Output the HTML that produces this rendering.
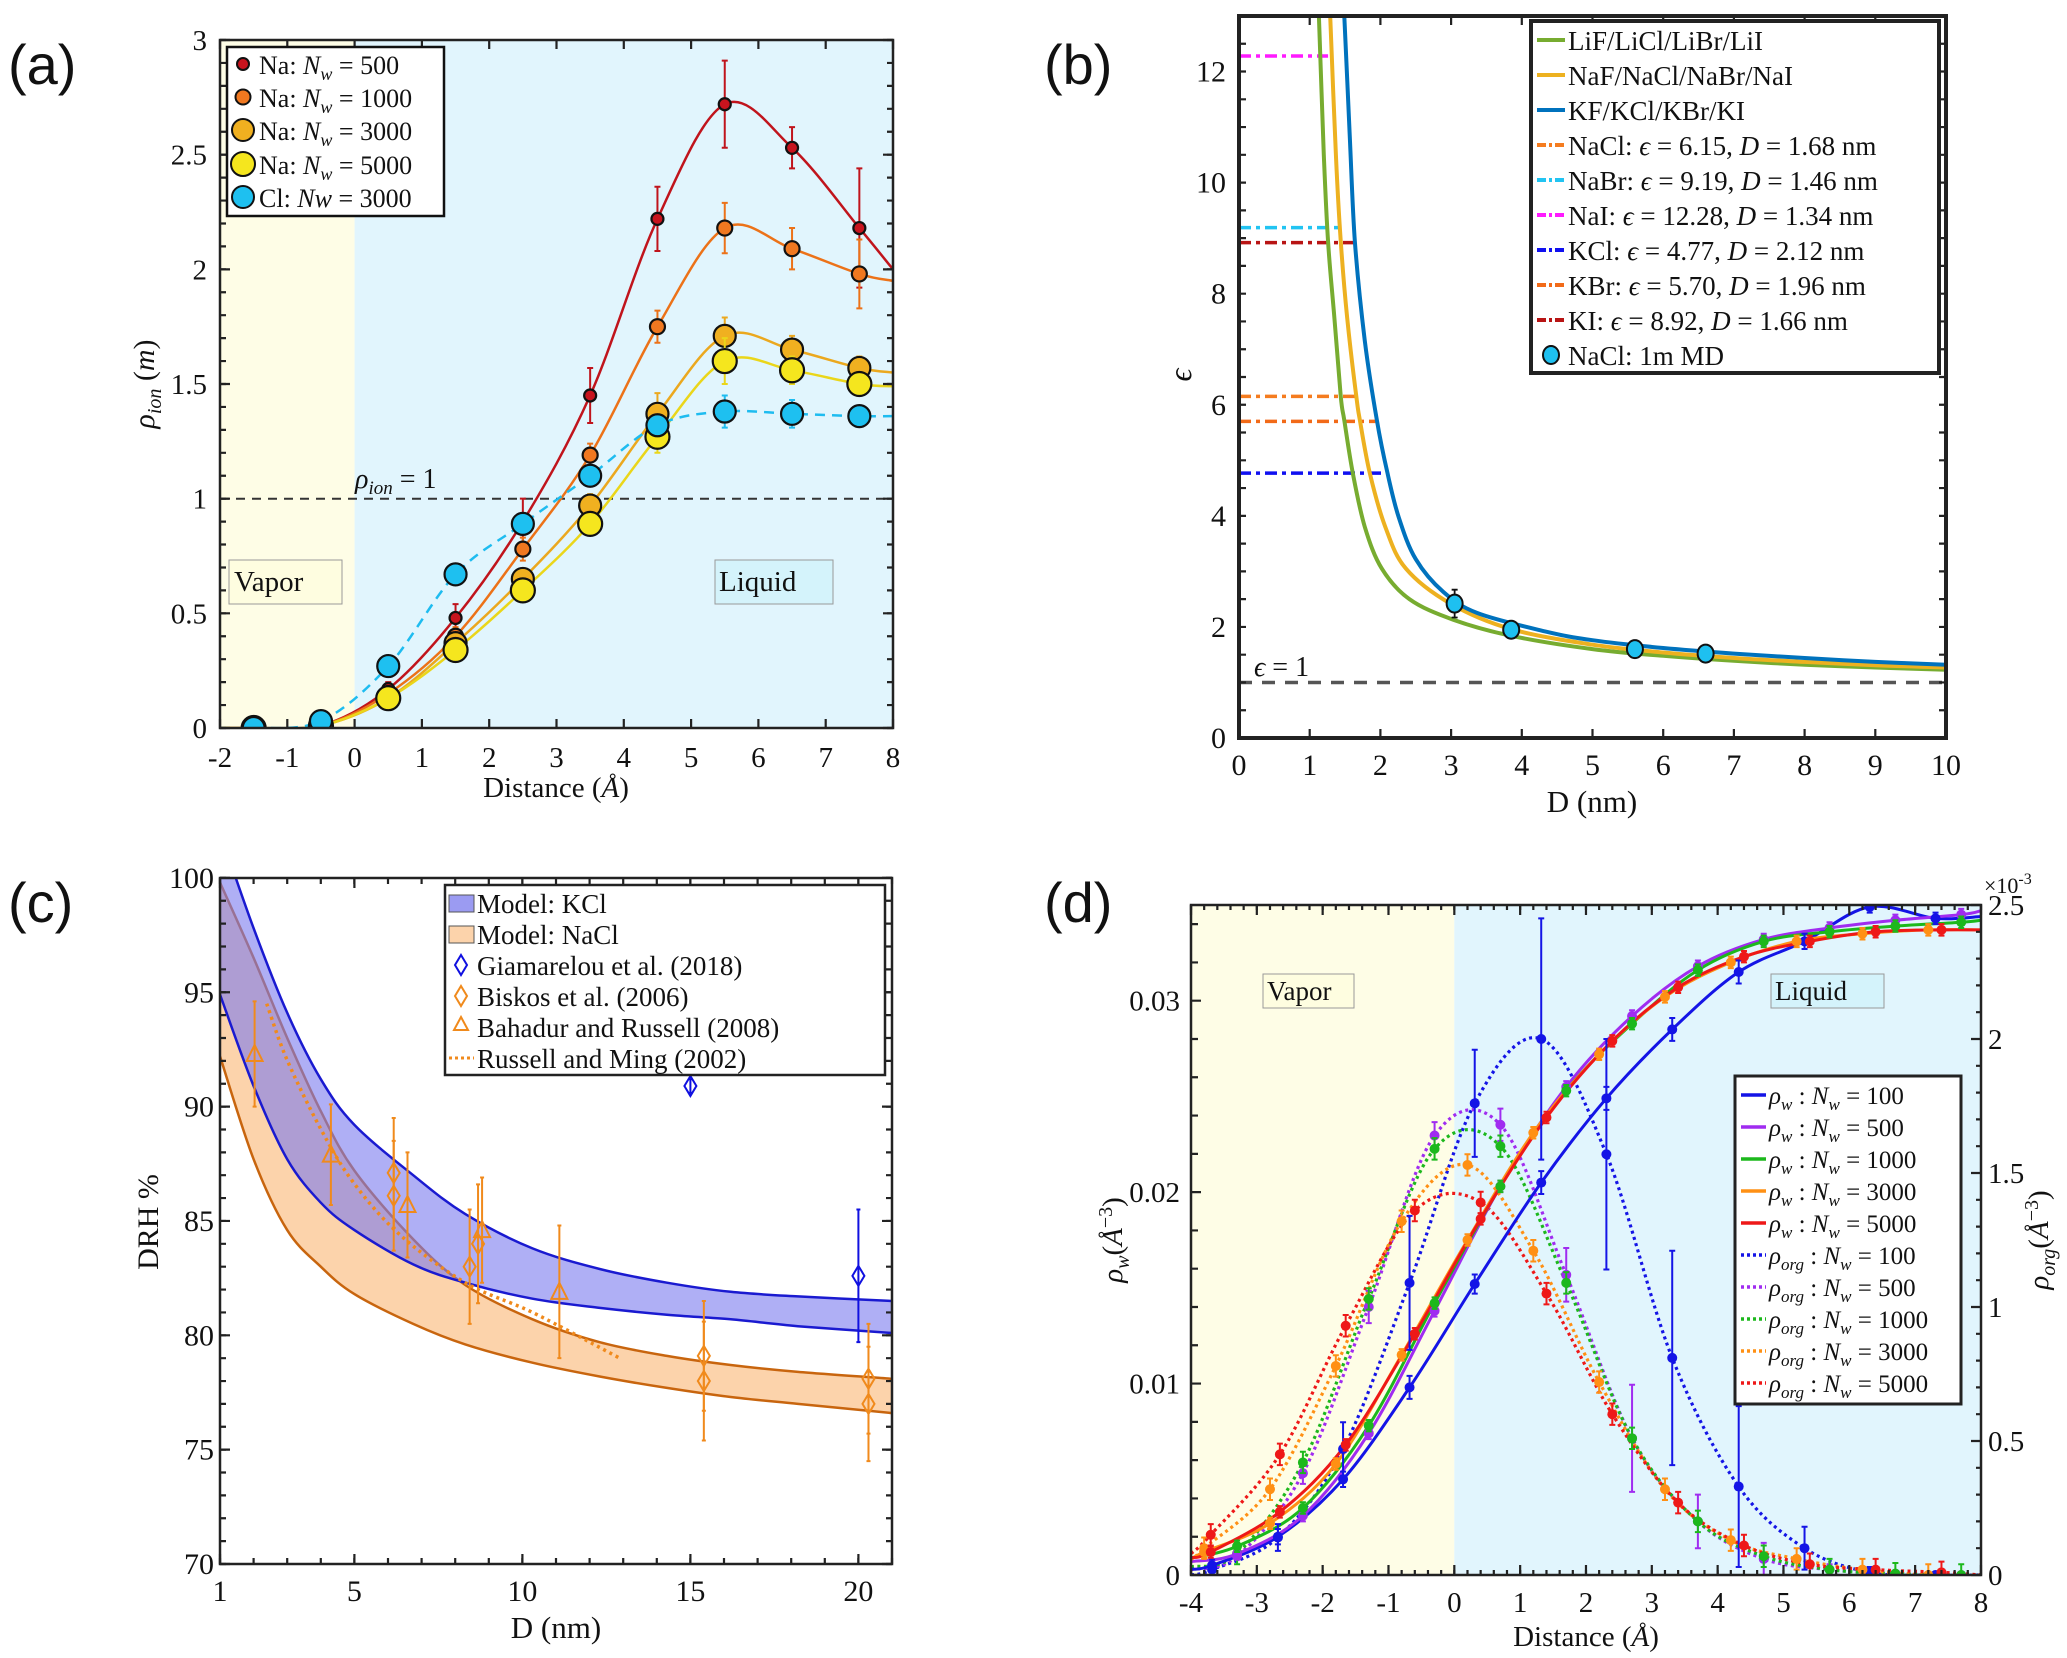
<!DOCTYPE html>
<html><head><meta charset="utf-8">
<style>
body{margin:0;background:#fff}
svg{display:block}
text{font-family:"Liberation Serif",serif;fill:#111}
.lab{font-family:"Liberation Sans",sans-serif;font-size:56px}
</style></head>
<body>
<svg id="fig" width="2067" height="1658" viewBox="0 0 2067 1658" xmlns="http://www.w3.org/2000/svg">
<defs>
<clipPath id="clipA"><rect x="220" y="40" width="673" height="688"/></clipPath>
<clipPath id="clipB"><rect x="1239" y="16" width="707" height="722"/></clipPath>
<clipPath id="clipC"><rect x="220" y="878" width="672" height="686"/></clipPath>
<clipPath id="clipD"><rect x="1191" y="905" width="790" height="670"/></clipPath>
</defs>

<!-- Panel A -->
<g id="pa">
<text class="lab" x="8" y="84">(a)</text>
<rect x="220" y="40" width="134.6" height="688" fill="#fefde6"/>
<rect x="354.6" y="40" width="538.4" height="688" fill="#e1f5fd"/>
<line x1="220" y1="498.7" x2="893" y2="498.7" stroke="#333" stroke-width="2" stroke-dasharray="9,7"/>
<text x="355" y="488" font-size="28" font-style="italic">ρ<tspan dy="6" font-size="19">ion</tspan><tspan dy="-6" font-style="normal"> = 1</tspan></text>
<rect x="229" y="560" width="113" height="44" fill="#fefde0" stroke="#999" stroke-width="1"/>
<text x="234" y="591" font-size="29">Vapor</text>
<rect x="715" y="560" width="118" height="44" fill="#d4f3fb" stroke="#999" stroke-width="1"/>
<text x="719" y="591" font-size="29">Liquid</text>
<g id="aPlot" clip-path="url(#clipA)"></g>
<g id="aAxes"></g>
<text x="556" y="797" font-size="29" text-anchor="middle">Distance (<tspan font-style="italic">Å</tspan>)</text>
<text transform="translate(154,384) rotate(-90)" font-size="30" text-anchor="middle"><tspan font-style="italic">ρ</tspan><tspan dy="7" font-size="20" font-style="italic">ion</tspan><tspan dy="-7">  (</tspan><tspan font-style="italic">m</tspan>)</text>
<g>
<rect x="227" y="47" width="217" height="169" fill="#fff" stroke="#111" stroke-width="2.5"/>
<circle cx="243" cy="64" r="6" fill="#c8141e" stroke="#111" stroke-width="2"/>
<text x="259" y="74" font-size="26">Na:  <tspan font-style="italic">N</tspan><tspan dy="6" font-size="18" font-style="italic">w</tspan><tspan dy="-6"> = 500</tspan></text>
<circle cx="243" cy="97" r="7.5" fill="#f07820" stroke="#111" stroke-width="2"/>
<text x="259" y="107" font-size="26">Na:  <tspan font-style="italic">N</tspan><tspan dy="6" font-size="18" font-style="italic">w</tspan><tspan dy="-6"> = 1000</tspan></text>
<circle cx="243" cy="130" r="11" fill="#f0b020" stroke="#111" stroke-width="2"/>
<text x="259" y="140" font-size="26">Na:  <tspan font-style="italic">N</tspan><tspan dy="6" font-size="18" font-style="italic">w</tspan><tspan dy="-6"> = 3000</tspan></text>
<circle cx="243" cy="164" r="12" fill="#f5e61e" stroke="#111" stroke-width="2"/>
<text x="259" y="174" font-size="26">Na:  <tspan font-style="italic">N</tspan><tspan dy="6" font-size="18" font-style="italic">w</tspan><tspan dy="-6"> = 5000</tspan></text>
<circle cx="243" cy="197" r="11" fill="#1ec0f0" stroke="#111" stroke-width="2"/>
<text x="259" y="207" font-size="26">Cl:  <tspan font-style="italic">Nw</tspan> = 3000</text>
</g>
</g>

<!-- Panel B -->
<g id="pb">
<text class="lab" x="1044" y="84">(b)</text>
<g id="bPlot" clip-path="url(#clipB)"></g>
<text x="1254" y="676" font-size="28" font-style="italic">ϵ<tspan font-style="normal"> = 1</tspan></text>
<g id="bAxes"></g>
<text x="1592" y="812" font-size="31" text-anchor="middle">D (nm)</text>
<text x="1184" y="382" font-size="32" font-style="italic" text-anchor="middle" transform="rotate(-90,1184,375)">ϵ</text>
<g id="bLegend">
<rect x="1531" y="21" width="408" height="352" fill="#fff" stroke="#222" stroke-width="4"/>
</g>
</g>

<!-- Panel C -->
<g id="pc">
<text class="lab" x="8" y="922">(c)</text>
<g id="cPlot" clip-path="url(#clipC)"></g>
<g id="cAxes"></g>
<text x="556" y="1638" font-size="31" text-anchor="middle">D (nm)</text>
<text transform="translate(158,1222) rotate(-90)" font-size="30" text-anchor="middle">DRH %</text>
<g>
<rect x="445" y="885" width="440" height="190" fill="#fff" stroke="#222" stroke-width="2.5"/>
<rect x="449" y="895" width="25" height="17" fill="#9b9bf2" stroke="#555" stroke-width="1"/>
<text x="477" y="913" font-size="27">Model: KCl</text>
<rect x="449" y="926" width="25" height="17" fill="#fcd3ab" stroke="#555" stroke-width="1"/>
<text x="477" y="944" font-size="27">Model: NaCl</text>
<path d="M461 955 L467 965 L461 975 L455 965 Z" fill="none" stroke="#1010e0" stroke-width="2"/>
<text x="477" y="975" font-size="27">Giamarelou et al. (2018)</text>
<path d="M461 986 L467 996 L461 1006 L455 996 Z" fill="none" stroke="#f08a1c" stroke-width="2"/>
<text x="477" y="1006" font-size="27">Biskos et al. (2006)</text>
<path d="M461 1017 L468 1030 L454 1030 Z" fill="none" stroke="#f08a1c" stroke-width="2"/>
<text x="477" y="1037" font-size="27">Bahadur and Russell (2008)</text>
<line x1="449" y1="1058" x2="474" y2="1058" stroke="#f08a1c" stroke-width="3" stroke-dasharray="3,3"/>
<text x="477" y="1068" font-size="27">Russell and Ming (2002)</text>
</g>
</g>

<!-- Panel D -->
<g id="pd">
<text class="lab" x="1044" y="922">(d)</text>
<rect x="1191" y="905" width="263.3" height="670" fill="#fefde6"/>
<rect x="1454.3" y="905" width="526.7" height="670" fill="#e1f5fd"/>
<rect x="1263" y="974" width="91" height="34" fill="#fefde0" stroke="#999" stroke-width="1"/>
<text x="1267" y="1000" font-size="27">Vapor</text>
<rect x="1771" y="974" width="113" height="34" fill="#d4f3fb" stroke="#999" stroke-width="1"/>
<text x="1775" y="1000" font-size="27">Liquid</text>
<g id="dPlot" clip-path="url(#clipD)"></g>
<g id="dAxes"></g>
<text x="1586" y="1646" font-size="29" text-anchor="middle">Distance (<tspan font-style="italic">Å</tspan>)</text>
<text transform="translate(1122,1240) rotate(-90)" font-size="29" text-anchor="middle"><tspan font-style="italic">ρ</tspan><tspan dy="7" font-size="20" font-style="italic">w</tspan><tspan dy="-7">(</tspan><tspan font-style="italic">Å</tspan><tspan dy="-10" font-size="20">−3</tspan><tspan dy="10">)</tspan></text>
<text transform="translate(2048,1240) rotate(-90)" font-size="29" text-anchor="middle"><tspan font-style="italic">ρ</tspan><tspan dy="7" font-size="20" font-style="italic">org</tspan><tspan dy="-7">(</tspan><tspan font-style="italic">Å</tspan><tspan dy="-10" font-size="20">−3</tspan><tspan dy="10">)</tspan></text>
<text x="1984" y="893" font-size="22">×10<tspan dy="-9" font-size="16">-3</tspan></text>
<g id="dLegend">
<rect x="1735" y="1076" width="226" height="328" fill="#fff" stroke="#222" stroke-width="3"/>
</g>
</g>
</svg>

<script>
// ---------- Panel A data ----------
const aX=[-1.5,-0.5,0.5,1.5,2.5,3.5,4.5,5.5,6.5,7.5];
const aNa500=[0,0.01,0.17,0.48,0.9,1.45,2.22,2.72,2.53,2.18];
const aNa500Err=[0,0,0.03,0.06,0.1,0.12,0.14,0.19,0.09,0.26];
const aNa1000=[0,0.01,0.15,0.4,0.78,1.19,1.75,2.18,2.09,1.98];
const aNa1000Err=[0,0,0.02,0.04,0.05,0.05,0.07,0.11,0.09,0.15];
const aNa3000=[0,0.01,0.13,0.37,0.65,0.97,1.37,1.71,1.65,1.57];
const aNa3000Err=[0,0,0.02,0.03,0.04,0.05,0.09,0.08,0.06,0.05];
const aNa5000=[0,0.01,0.13,0.34,0.6,0.89,1.27,1.6,1.56,1.5];
const aNa5000Err=[0,0,0.02,0.03,0.04,0.05,0.07,0.1,0.06,0.05];
const aCl3000=[0,0.03,0.27,0.67,0.89,1.1,1.32,1.38,1.37,1.36];
const aCl3000Err=[0,0,0.02,0.03,0.03,0.03,0.04,0.07,0.06,0.03];
const aEndValues=[2.0,1.95,1.55,1.49,1.36];
const aXTicks=[-2,-1,0,1,2,3,4,5,6,7,8];
const aYTicks=[0,0.5,1,1.5,2,2.5,3];

// ---------- Panel B data ----------
const bGreenD=[1.13,1.2,1.26,1.35,1.44,1.49,1.61,1.78,2.02,2.41,3.03,3.85,5,6,7,8,9,10];
const bGreenE=[13,10.5,8.93,7.56,6.14,5.72,4.77,3.8,3.05,2.5,2.13,1.84,1.6,1.48,1.39,1.32,1.27,1.23];
const bOrangeD=[1.29,1.37,1.44,1.53,1.66,1.71,1.85,2.07,2.36,2.99,3.85,5,6,7,8,9,10];
const bOrangeE=[13,10.5,8.93,7.56,6.14,5.72,4.77,3.8,3.05,2.42,1.96,1.68,1.54,1.44,1.37,1.31,1.27];
const bBlueD=[1.49,1.565,1.64,1.78,1.95,2.1,2.26,2.5,2.89,3.37,4.33,5,6,7,8,9,10];
const bBlueE=[13,10.9,8.93,7.15,5.72,4.77,3.97,3.22,2.63,2.25,1.92,1.76,1.62,1.52,1.44,1.37,1.32];
const bRefNames=['NaCl','NaBr','NaI','KCl','KBr','KI'];
const bRefEps=[6.15,9.19,12.28,4.77,5.70,8.92];
const bRefEnd=[1.66,1.44,1.26,2.10,1.93,1.64];
const bRefColors=['#f57c1f','#22c4f2','#ff1aff','#1010f0','#f26a18','#b81414'];
const bMdD=[3.05,3.85,5.6,6.6];
const bMdE=[2.42,1.95,1.6,1.52];
const bMdErr=[0.25,0.15,0.07,0.06];
const bXTicks=[0,1,2,3,4,5,6,7,8,9,10];
const bYTicks=[0,2,4,6,8,10,12];

// ---------- Panel C data ----------
const cD=[1,2,3,4,5,6.75,8.3,10.3,12.3,14.3,16.2,18.2,21];
const cKclUp=[102,97.8,94.1,91.2,89.2,87,85.3,83.8,82.9,82.3,81.9,81.7,81.5];
const cKclLo=[94.9,90.9,87.7,85.8,84.6,83.1,82.3,81.6,81.2,80.9,80.7,80.4,80.1];
const cNaclUp=[99.8,96.5,93.0,89.8,87.2,84.2,82.2,80.7,79.7,79.1,78.7,78.4,78.1];
const cNaclLo=[92.2,87.7,84.6,83.0,81.8,80.5,79.6,78.8,78.2,77.7,77.3,77.0,76.6];
const cRmD=[2.39,2.98,3.97,4.96,6.35,8.3,10.3,12.9];
const cRmV=[94.5,92.1,89.1,86.7,84.4,82.3,81.0,79.0];
const cBahD=[2.03,4.3,6.58,8.8,11.1];
const cBahV=[92.3,87.9,85.7,84.6,81.9];
const cBahErr=[2.3,2.2,2.3,2.3,2.9];
const cBisD=[6.17,6.17,8.43,8.68,15.4,15.4,20.3,20.3];
const cBisV=[87.1,86.1,83.0,84.0,79.1,78.0,78.1,77.0];
const cBisErr=[2.4,2.4,2.5,2.6,2.4,2.6,2.4,2.5];
const cGiaD=[15.0,20.0];
const cGiaV=[90.9,82.6];
const cGiaErr=[0.3,2.9];
const cXTicks=[1,5,10,15,20];
const cYTicks=[70,75,80,85,90,95,100];

// ---------- Panel D data ----------
const dXA=[-3.68,-2.68,-1.69,-0.68,0.31,1.32,2.31,3.31,4.32,5.32,6.31,7.31];
const dXB=[-3.3,-2.3,-1.3,-0.3,0.7,1.7,2.7,3.7,4.7,5.7,6.7,7.7];
const dXC=[-3.8,-2.8,-1.8,-0.8,0.2,1.2,2.2,3.2,4.2,5.2,6.2,7.2];
const dXD=[-3.7,-2.65,-1.65,-0.6,0.4,1.4,2.4,3.4,4.4,5.4,6.4,7.4];
const dW100=[0.0005,0.002,0.005,0.0098,0.0152,0.0205,0.0249,0.0285,0.0315,0.0331,0.0349,0.0343];
const dW500=[0.0011,0.0031,0.0074,0.0138,0.0203,0.0255,0.0292,0.0318,0.0332,0.0338,0.0342,0.0345];
const dW1000=[0.0015,0.0035,0.0078,0.0142,0.0203,0.0253,0.0288,0.0316,0.0331,0.0336,0.0339,0.0341];
const dW3000=[0.0012,0.0027,0.0058,0.0115,0.0175,0.0231,0.0272,0.0302,0.032,0.0331,0.0335,0.0337];
const dW5000=[0.0012,0.0033,0.0068,0.0126,0.0186,0.0239,0.0279,0.0307,0.0323,0.0331,0.0336,0.0337];
const dWErr100=[0.0003,0.0004,0.0004,0.0006,0.0005,0.0006,0.0006,0.0006,0.0006,0.0004,0.0003,0.0003];
const dWLeft=[0.0003,0.0007,0.0009,0.0008,0.0009];
const dWRight=[0.0344,0.0347,0.0342,0.0337,0.0337];
const dO100=[0.02,0.14,0.47,1.09,1.76,2.0,1.57,0.81,0.33,0.1,0.01,0];
const dO500=[0.07,0.38,1.0,1.64,1.68,1.12,0.51,0.2,0.06,0.02,0.005,0];
const dO1000=[0.08,0.42,1.03,1.59,1.6,1.09,0.51,0.2,0.07,0.02,0.005,0];
const dO3000=[0.1,0.32,0.78,1.32,1.53,1.21,0.72,0.32,0.13,0.06,0.02,0];
const dO5000=[0.15,0.45,0.93,1.36,1.39,1.05,0.6,0.27,0.11,0.04,0.02,0.01];
const dOErr100=[0.02,0.05,0.1,0.25,0.2,0.45,0.43,0.4,0.3,0.08,0.02,0];
const dOErr500=[0.01,0.04,0.06,0.05,0.06,0.1,0.2,0.1,0.06,0.02,0,0];
const dOLeft=[0.0,0.02,0.03,0.05,0.08];
const dXTicks=[-4,-3,-2,-1,0,1,2,3,4,5,6,7,8];
const dYTicksL=[0,0.01,0.02,0.03];
const dYTicksR=[0,0.5,1,1.5,2,2.5];

const NS='http://www.w3.org/2000/svg';
function mk(tag,attrs,parent){const e=document.createElementNS(NS,tag);for(const k in attrs)e.setAttribute(k,attrs[k]);parent.appendChild(e);return e;}
function spl(pts,move){
  let d=(move===false?'L':'M')+pts[0][0].toFixed(1)+','+pts[0][1].toFixed(1);
  for(let i=0;i<pts.length-1;i++){
    const p0=pts[i-1]||pts[i],p1=pts[i],p2=pts[i+1],p3=pts[i+2]||pts[i+1];
    const c1=[p1[0]+(p2[0]-p0[0])/6,p1[1]+(p2[1]-p0[1])/6];
    const c2=[p2[0]-(p3[0]-p1[0])/6,p2[1]-(p3[1]-p1[1])/6];
    d+=' C'+c1[0].toFixed(1)+','+c1[1].toFixed(1)+' '+c2[0].toFixed(1)+','+c2[1].toFixed(1)+' '+p2[0].toFixed(1)+','+p2[1].toFixed(1);
  }
  return d;
}
function axesBox(g,x0,y0,x1,y1,sw,name){
  const r=mk('rect',{x:x0,y:y0,width:x1-x0,height:y1-y0,fill:'none',stroke:'#222','stroke-width':sw},g);
  
  
}
function tickSet(g,pos,horizontal,a0,a1,len,name){
  let d='';
  pos.forEach(p=>{
    if(horizontal){d+=`M${p},${a1}v${-len}M${p},${a0}v${len}`;}
    else{d+=`M${a0},${p}h${len}M${a1},${p}h${-len}`;}
  });
  const t=mk('path',{d:d,stroke:'#222','stroke-width':2.2,fill:'none'},g);
  
  
}
function label(g,x,y,txt,anchor,size,name){
  const t=mk('text',{x:x,y:y,'text-anchor':anchor,'font-size':size},g);
  t.textContent=txt;
  
  
  return t;
}
function errBar(g,x,y1,y2,color,cap,w,name){
  const p=mk('path',{d:`M${x},${y1}V${y2}M${x-cap},${y1}h${2*cap}M${x-cap},${y2}h${2*cap}`,stroke:color,'stroke-width':w,fill:'none'},g);
  
  
}

// ---------- Panel A draw ----------
(function(){
  const ax=v=>220+(v+2)*67.3, ay=v=>728-v*229.33;
  const g=document.getElementById('aPlot'), A=document.getElementById('aAxes');
  const series=[
    {n:'na500',y:aNa500,e:aNa500Err,fill:'#c8141e',line:'#c0141c',r:6,dash:null},
    {n:'na1000',y:aNa1000,e:aNa1000Err,fill:'#f07820',line:'#ec7218',r:7.5,dash:null},
    {n:'na3000',y:aNa3000,e:aNa3000Err,fill:'#f0b020',line:'#eba81e',r:11,dash:null},
    {n:'na5000',y:aNa5000,e:aNa5000Err,fill:'#f5e61e',line:'#ead61a',r:12,dash:null},
    {n:'cl3000',y:aCl3000,e:aCl3000Err,fill:'#1ec0f0',line:'#1ebcf0',r:11,dash:'10,7'}
  ];
  series.forEach((s,k)=>{
    const pts=[[ax(-2),ay(0)]].concat(aX.map((x,i)=>[ax(x),ay(s.y[i])])).concat([[ax(8),ay(aEndValues[k])]]);
    const p=mk('path',{d:spl(pts),fill:'none',stroke:s.line,'stroke-width':2.5},g);
    if(s.dash)p.setAttribute('stroke-dasharray',s.dash);
    
    
  });
  series.forEach(s=>{
    aX.forEach((x,i)=>{
      if(s.e[i]>0) errBar(g,ax(x),ay(s.y[i]+s.e[i]),ay(s.y[i]-s.e[i]),s.line,3,2,'errorbar-'+s.n);
      const c=mk('circle',{cx:ax(x),cy:ay(s.y[i]),r:s.r,fill:s.fill,stroke:'#111','stroke-width':2.2},g);
      
      
    });
  });
  axesBox(A,220,40,893,728,2.5,'axes-frame-a');
  tickSet(A,aXTicks.map(ax),true,40,728,9,'x-ticks-a');
  const minor=[];for(let v=0;v<=30;v++)minor.push(ay(v/10));
  tickSet(A,minor,false,220,893,6,'y-minor-ticks-a');
  tickSet(A,aYTicks.map(ay),false,220,893,10,'y-ticks-a');
  aXTicks.forEach(v=>label(A,ax(v),767,String(v),'middle',29,'x-tick-label-a'));
  aYTicks.forEach(v=>label(A,207,ay(v)+10,String(v),'end',29,'y-tick-label-a'));
})();

// ---------- Panel B draw ----------
(function(){
  const bx=v=>1239+v*70.7, by=v=>738-v*55.54;
  const g=document.getElementById('bPlot'), A=document.getElementById('bAxes');
  const dl=mk('line',{x1:1239,x2:1946,y1:by(1),y2:by(1),stroke:'#555','stroke-width':3.5,'stroke-dasharray':'13,10'},g);
  
  
  bRefEps.forEach((e,i)=>{
    const l=mk('line',{x1:1239,x2:bx(bRefEnd[i]),y1:by(e),y2:by(e),stroke:bRefColors[i],'stroke-width':3.5,'stroke-dasharray':'12,5,4,5'},g);
    
    
  });
  const curves=[['li-curve',bGreenD,bGreenE,'#77ac30'],['na-curve',bOrangeD,bOrangeE,'#edb120'],['k-curve',bBlueD,bBlueE,'#0072bd']];
  curves.forEach(c=>{
    const pts=c[1].map((d,i)=>[bx(d),by(c[2][i])]);
    pts.unshift([pts[0][0]-1.5,by(13.6)]);
    const p=mk('path',{d:spl(pts),fill:'none',stroke:c[3],'stroke-width':4},g);
    
    
  });
  bMdD.forEach((d,i)=>{
    errBar(g,bx(d),by(bMdE[i]+bMdErr[i]),by(bMdE[i]-bMdErr[i]),'#111',3,1.8,'errorbar-md');
    const c=mk('ellipse',{cx:bx(d),cy:by(bMdE[i]),rx:8,ry:9,fill:'#1ec0f0',stroke:'#111','stroke-width':2},g);
    
    
  });
  axesBox(A,1239,16,1946,738,4,'axes-frame-b');
  tickSet(A,bXTicks.map(bx),true,16,738,9,'x-ticks-b');
  const minor=[];for(let v=0;v<=26;v++)minor.push(by(v/2));
  tickSet(A,minor,false,1239,1946,7,'y-ticks-b');
  bXTicks.forEach(v=>label(A,bx(v),775,String(v),'middle',30,'x-tick-label-b'));
  bYTicks.forEach(v=>label(A,1226,by(v)+10,String(v),'end',30,'y-tick-label-b'));
  // legend
  const L=document.getElementById('bLegend');
  const rows=[
    ['#77ac30',null,'LiF/LiCl/LiBr/LiI'],['#edb120',null,'NaF/NaCl/NaBr/NaI'],['#0072bd',null,'KF/KCl/KBr/KI']
  ];
  rows.forEach((r,i)=>{
    const y=40+i*35;
    const l=mk('line',{x1:1537,x2:1565,y1:y,y2:y,stroke:r[0],'stroke-width':4},L);
    
    
    label(L,1568,y+10,r[2],'start',27,'legend-entry-b');
  });
  const refTxt=[['NaCl: ','6.15,  ','1.68 nm'],['NaBr: ','9.19, ','1.46 nm'],['NaI: ','12.28, ','1.34 nm'],['KCl: ','4.77, ','2.12 nm'],['KBr: ','5.70, ','1.96 nm'],['KI: ','8.92, ','1.66 nm']];
  refTxt.forEach((r,i)=>{
    const y=40+(i+3)*35;
    const l=mk('line',{x1:1537,x2:1565,y1:y,y2:y,stroke:bRefColors[i],'stroke-width':4,'stroke-dasharray':'9,3,3,3'},L);
    
    
    const t=label(L,1568,y+10,'','start',27,'legend-entry-ref');
    t.appendChild(document.createTextNode(r[0]));
    const e=mk('tspan',{'font-style':'italic'},t);e.textContent='ϵ';
    t.appendChild(document.createTextNode(' = '+r[1]));
    const dd=mk('tspan',{'font-style':'italic'},t);dd.textContent='D';
    t.appendChild(document.createTextNode(' = '+r[2]));
  });
  const mc=mk('ellipse',{cx:1551,cy:355,rx:8,ry:9,fill:'#1ec0f0',stroke:'#111','stroke-width':2},L);
  
  
  label(L,1568,365,'NaCl:  1m MD','start',27,'legend-entry-md');
})();

// ---------- Panel C draw ----------
(function(){
  const cx=v=>220+(v-1)*33.6, cy=v=>1564-(v-70)*22.87;
  const g=document.getElementById('cPlot'), A=document.getElementById('cAxes');
  function band(up,lo,fill,op,edge,name){
    const U=cD.map((d,i)=>[cx(d),cy(up[i])]);
    const Lo=cD.map((d,i)=>[cx(d),cy(lo[i])]).reverse();
    const f=mk('path',{d:spl(U)+' '+spl(Lo,false)+' Z',fill:fill,'fill-opacity':op,stroke:'none'},g);
    
    
    [U,Lo].forEach((P,j)=>{
      const e=mk('path',{d:spl(P),fill:'none',stroke:edge,'stroke-width':2.5},g);
      
      
    });
  }
  band(cNaclUp,cNaclLo,'#fcd3ab',1,'#c8650e','nacl');
  band(cKclUp,cKclLo,'#7a7aee',0.6,'#1a1ad0','kcl');
  const rm=mk('path',{d:spl(cRmD.map((d,i)=>[cx(d),cy(cRmV[i])])),fill:'none',stroke:'#f08a1c','stroke-width':3.5,'stroke-dasharray':'3,4'},g);
  
  
  cBahD.forEach((d,i)=>{
    const x=cx(d),y=cy(cBahV[i]);
    errBar(g,x,cy(cBahV[i]+cBahErr[i]),cy(cBahV[i]-cBahErr[i]),'#f08a1c',2,2,'errorbar-bahadur');
    const t=mk('path',{d:`M${x},${y-9}L${x+8},${y+7}L${x-8},${y+7}Z`,fill:'none',stroke:'#f08a1c','stroke-width':2},g);
    
    
  });
  cBisD.forEach((d,i)=>{
    const x=cx(d),y=cy(cBisV[i]);
    errBar(g,x,cy(cBisV[i]+cBisErr[i]),cy(cBisV[i]-cBisErr[i]),'#f08a1c',2,2,'errorbar-biskos');
    const t=mk('path',{d:`M${x},${y-10}L${x+6},${y}L${x},${y+10}L${x-6},${y}Z`,fill:'none',stroke:'#f08a1c','stroke-width':2},g);
    
    
  });
  cGiaD.forEach((d,i)=>{
    const x=cx(d),y=cy(cGiaV[i]);
    errBar(g,x,cy(cGiaV[i]+cGiaErr[i]),cy(cGiaV[i]-cGiaErr[i]),'#1010e0',2,2,'errorbar-giamarelou');
    const t=mk('path',{d:`M${x},${y-10}L${x+6},${y}L${x},${y+10}L${x-6},${y}Z`,fill:'none',stroke:'#1010e0','stroke-width':2},g);
    
    
  });
  axesBox(A,220,878,892,1564,2.5,'axes-frame-c');
  const xm=[];for(let v=1;v<=21;v++)xm.push(cx(v));
  tickSet(A,xm,true,878,1564,6,'x-minor-ticks-c');
  tickSet(A,cXTicks.map(cx),true,878,1564,10,'x-ticks-c');
  const ym=[];for(let v=70;v<=100;v++)ym.push(cy(v));
  tickSet(A,ym,false,220,892,6,'y-minor-ticks-c');
  tickSet(A,cYTicks.map(cy),false,220,892,10,'y-ticks-c');
  cXTicks.forEach(v=>label(A,cx(v),1601,String(v),'middle',30,'x-tick-label-c'));
  cYTicks.forEach(v=>label(A,214,cy(v)+10,String(v),'end',30,'y-tick-label-c'));
})();

// ---------- Panel D draw ----------
(function(){
  const dx=v=>1191+(v+4)*65.83, dyL=v=>1575-v*19143, dyR=v=>1575-v*268;
  const g=document.getElementById('dPlot'), A=document.getElementById('dAxes');
  const cols=['#1414e6','#a02cf0','#1cb81c','#ff9014','#ee1818'];
  const ns=['100','500','1000','3000','5000'];
  const xs=[dXA,dXB,dXB,dXC,dXD];
  const W=[dW100,dW500,dW1000,dW3000,dW5000];
  const O=[dO100,dO500,dO1000,dO3000,dO5000];
  O.forEach((o,k)=>{
    const pts=[[dx(-4),dyR(dOLeft[k])]].concat(xs[k].map((x,i)=>[dx(x),dyR(o[i])])).concat([[dx(8),dyR(0)]]);
    const p=mk('path',{d:spl(pts),fill:'none',stroke:cols[k],'stroke-width':3.2,'stroke-dasharray':'3,3.5'},g);
    
    
  });
  W.forEach((w,k)=>{
    const pts=[[dx(-4),dyL(dWLeft[k])]].concat(xs[k].map((x,i)=>[dx(x),dyL(w[i])])).concat([[dx(8),dyL(dWRight[k])]]);
    const p=mk('path',{d:spl(pts),fill:'none',stroke:cols[k],'stroke-width':3},g);
    
    
  });
  O.forEach((o,k)=>{
    xs[k].forEach((x,i)=>{
      const er=k===0?dOErr100[i]:(k===1?dOErr500[i]:0.04);
      if(er>0)errBar(g,dx(x),dyR(o[i]+er),dyR(o[i]-er),cols[k],3,2,'errorbar-org-'+ns[k]);
      const c=mk('circle',{cx:dx(x),cy:dyR(o[i]),r:5,fill:cols[k]},g);
      
      
    });
  });
  W.forEach((w,k)=>{
    xs[k].forEach((x,i)=>{
      const er=k===0?dWErr100[i]:0.0003;
      errBar(g,dx(x),dyL(w[i]+er),dyL(w[i]-er),cols[k],3,2,'errorbar-water-'+ns[k]);
      const c=mk('circle',{cx:dx(x),cy:dyL(w[i]),r:5,fill:cols[k]},g);
      
      
    });
  });
  axesBox(A,1191,905,1981,1575,2.5,'axes-frame-d');
  const xm=[];for(let v=-40;v<=80;v+=2)xm.push(dx(v/10));
  tickSet(A,xm,true,905,1575,5,'x-minor-ticks-d');
  tickSet(A,dXTicks.map(dx),true,905,1575,10,'x-ticks-d');
  let d='';
  for(let v=0;v<=35;v+=2){const y=dyL(v/1000);d+=`M1191,${y}h7`;}
  dYTicksL.forEach(v=>{d+=`M1191,${dyL(v)}h10`;});
  for(let v=0;v<=25;v++){const y=dyR(v/10);d+=`M1981,${y}h-5`;}
  dYTicksR.forEach(v=>{d+=`M1981,${dyR(v)}h-10`;});
  const t=mk('path',{d:d,stroke:'#222','stroke-width':2.2,fill:'none'},A);
  
  
  dXTicks.forEach(v=>label(A,dx(v),1612,String(v),'middle',29,'x-tick-label-d'));
  dYTicksL.forEach(v=>label(A,1180,dyL(v)+10,String(v),'end',29,'y-tick-label-left-d'));
  dYTicksR.forEach(v=>label(A,1988,dyR(v)+10,String(v),'start',29,'y-tick-label-right-d'));
  const L=document.getElementById('dLegend');
  for(let j=0;j<10;j++){
    const k=j%5, y=1095+j*32;
    const l=mk('line',{x1:1741,x2:1766,y1:y,y2:y,stroke:cols[k],'stroke-width':3.5},L);
    if(j>=5)l.setAttribute('stroke-dasharray','3,3');
    
    
    const tx=mk('text',{x:1769,y:y+9,'font-size':25},L);
    
    
    const a=mk('tspan',{'font-style':'italic'},tx);a.textContent='ρ';
    const b=mk('tspan',{'font-style':'italic','font-size':17,dy:6},tx);b.textContent=j<5?'w':'org';
    const c=mk('tspan',{dy:-6},tx);c.textContent=' : ';
    const n=mk('tspan',{'font-style':'italic'},tx);n.textContent='N';
    const s=mk('tspan',{'font-style':'italic','font-size':17,dy:6},tx);s.textContent='w';
    const e=mk('tspan',{dy:-6},tx);e.textContent=' = '+ns[k];
  }
})();
</script>
</body></html>
